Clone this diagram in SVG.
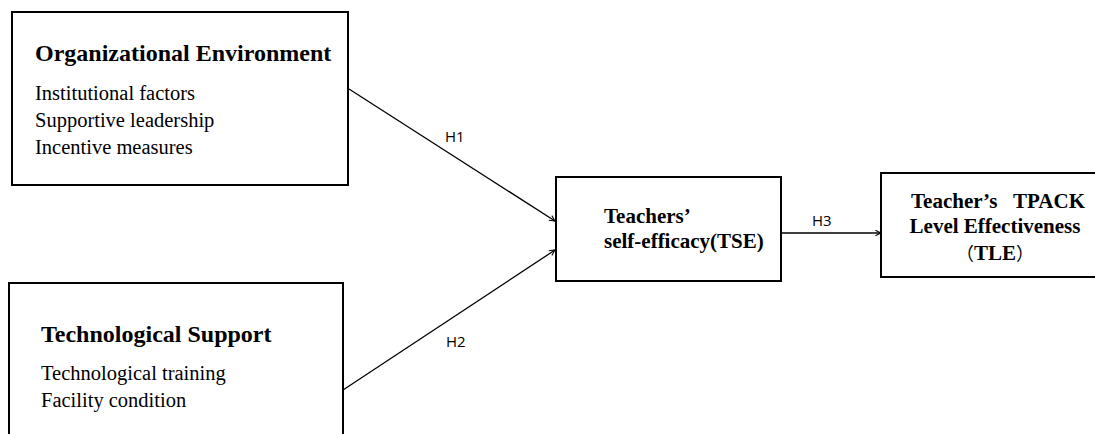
<svg xmlns="http://www.w3.org/2000/svg" width="1095" height="434" viewBox="0 0 1095 434">
<style>
.box{fill:#fff;stroke:#000;stroke-width:2}
.t{font-family:"Liberation Serif","Times New Roman",serif;fill:#000}
.h{font-weight:bold;font-size:24px}
.s{font-size:20.5px}
.b{font-weight:bold;font-size:21px}
.cj{font-family:"Noto Sans CJK SC",sans-serif;font-weight:normal;font-size:18px}
.lbl{font-family:"Open Sans","Liberation Sans",sans-serif;font-size:15px;fill:#000}
.c{stroke:#000;stroke-width:1.3;fill:none}
</style>
<defs>
<marker id="arr" viewBox="0 0 10 10" refX="9" refY="5" markerWidth="7" markerHeight="7" orient="auto" markerUnits="userSpaceOnUse">
<path d="M1,1 L9,5 L1,9" fill="none" stroke="#000" stroke-width="1.5"/>
</marker>
</defs>
<rect width="1095" height="434" fill="#fff"/>
<g id="connectors">
<line class="c" x1="349" y1="89" x2="555" y2="221" marker-end="url(#arr)"/>
<line class="c" x1="343" y1="390" x2="555" y2="250" marker-end="url(#arr)"/>
<line class="c" x1="781" y1="233" x2="881" y2="233" marker-end="url(#arr)"/>
<text class="lbl" x="445" y="142">H1</text>
<text class="lbl" x="446" y="347">H2</text>
<text class="lbl" x="812" y="226">H3</text>
</g>
<g id="org-env">
<rect class="box" x="12" y="12" width="336" height="173"/>
<text class="t h" x="35" y="61">Organizational Environment</text>
<text class="t s" x="35" y="100">Institutional factors</text>
<text class="t s" x="35" y="127">Supportive leadership</text>
<text class="t s" x="35" y="154">Incentive measures</text>
</g>
<g id="tech-support">
<rect class="box" x="9" y="283" width="334" height="160"/>
<text class="t h" x="41" y="342">Technological Support</text>
<text class="t s" x="41" y="380">Technological training</text>
<text class="t s" x="41" y="407">Facility condition</text>
</g>
<g id="tse">
<rect class="box" x="556" y="177" width="225" height="104"/>
<text class="t b" x="604" y="223">Teachers’</text>
<text class="t b" x="604" y="248">self-efficacy(TSE)</text>
</g>
<g id="tle">
<rect class="box" x="881" y="173" width="220" height="104"/>
<text class="t b" x="911" y="208">Teacher’s</text>
<text class="t b" x="1085" y="208" text-anchor="end">TPACK</text>
<text class="t b" x="995" y="233" text-anchor="middle">Level Effectiveness</text>
<text class="t b" x="995" y="260" text-anchor="middle"><tspan class="cj">（</tspan>TLE<tspan class="cj">）</tspan></text>
</g>
</svg>
